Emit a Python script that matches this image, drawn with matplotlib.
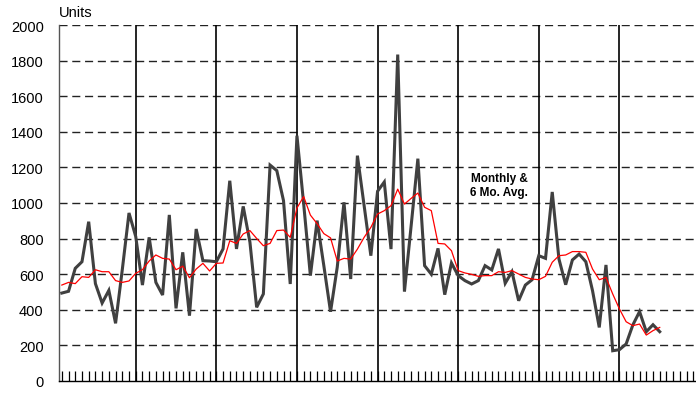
import numpy as np
import matplotlib.pyplot as plt

plt.rcParams['font.family'] = ['Liberation Sans', 'DejaVu Sans']

# monthly values, 2002 through mid 2009 (one value per month)
monthly = [494, 504, 633, 670, 895, 547, 438, 509, 324, 625, 944, 812,
           539, 807, 554, 483, 933, 408, 723, 367, 854, 676, 674, 670,
           742, 1125, 742, 981, 780, 414, 489, 1213, 1182, 1013, 545, 1378,
           995, 592, 901, 648, 389, 640, 1004, 573, 1266, 985, 704, 1066,
           1118, 741, 1834, 502, 873, 1249, 648, 600, 745, 485, 663, 592,
           564, 545, 564, 648, 624, 742, 549, 614, 451, 539, 569, 704,
           689, 1062, 685, 541, 680, 713, 670, 507, 301, 652, 170, 176,
           208, 315, 390, 277, 316, 277]
avg6 = [539, 554, 547, 586, 582, 625, 614, 614, 564, 554, 562, 605,
        625, 674, 708, 689, 685, 625, 645, 580, 629, 661, 618, 661,
        663, 788, 773, 826, 845, 801, 760, 773, 845, 848, 807, 972,
        1036, 932, 884, 828, 804, 674, 689, 685, 741, 807, 863, 938,
        957, 985, 1078, 994, 1026, 1056, 976, 957, 773, 770, 732, 620,
        607, 599, 588, 592, 592, 614, 610, 620, 601, 582, 573, 569,
        588, 667, 704, 708, 727, 727, 723, 629, 569, 582, 489, 405,
        333, 311, 320, 258, 283, 301]
year_labels = ['02', '03', '04', '05', '06', '07', '08', '09']

W, H = 696, 410
fig = plt.figure(figsize=(W / 100, H / 100), dpi=100)
ax = fig.add_axes([59 / W, 28 / H, 1 - 59 / W, 356 / H])

x = np.arange(len(monthly))
ax.set_xlim(-0.42, 94.4)
ax.set_ylim(0, 2000)

# dashed horizontal grid
for v in range(200, 2001, 200):
    ax.axhline(v, color='#222222', lw=1.0, dashes=(5.8, 3.4), zorder=1)

# year separators
for k in range(7):
    ax.plot([11 + 12 * k] * 2, [0, 2000], color='black', lw=1.2, zorder=2)

ax.plot(x, monthly, color='#404040', lw=2.2, zorder=3, solid_joinstyle='miter')
ax.plot(x, avg6, color='#ff0000', lw=0.9, zorder=4)

ax.text(65.1, 1101, 'Monthly &\n6 Mo. Avg.', ha='center', va='center',
        fontsize=8.5, fontweight='bold', linespacing=1.25)

fig.text(59 / W, 1 - 13 / H, 'Units', ha='left', va='center', fontsize=10.5)

ax.set_yticks(range(0, 2001, 200))
ax.tick_params(axis='y', length=0, pad=11, labelsize=10.5)

ax.set_xticks(np.arange(0, 95))
ax.set_xticklabels([])
ax.tick_params(axis='x', which='major', direction='in', length=7, width=0.9,
               color='black')
ax.set_xticks([6 + 12 * k for k in range(len(year_labels))], year_labels, minor=True)
ax.tick_params(axis='x', which='minor', length=0, pad=10, labelsize=10.5)

for s in ['top', 'right']:
    ax.spines[s].set_visible(False)
ax.spines['left'].set_color('#555555')
ax.spines['bottom'].set_color('black')
ax.spines['left'].set_linewidth(1.0)
ax.spines['bottom'].set_linewidth(1.0)

fig.savefig('out.png', dpi=100)
